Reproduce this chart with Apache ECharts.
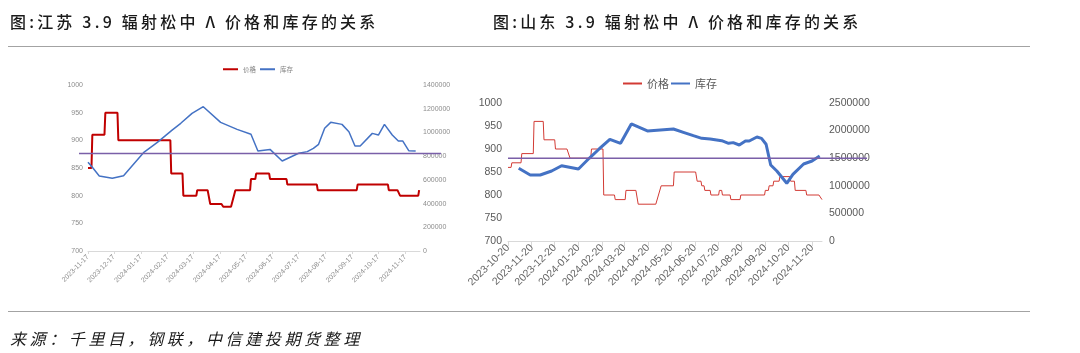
<!DOCTYPE html>
<html>
<head>
<meta charset="utf-8">
<script src="https://cdn.jsdelivr.net/npm/echarts@6/dist/echarts.min.js"></script>
<style>
body{margin:0;background:#fff;}
#wrap{position:relative;width:1080px;height:353px;overflow:hidden;font-family:"Noto Sans CJK SC",sans-serif;}
#main{position:absolute;left:0;top:0;width:1080px;height:353px;}
.ttl{position:absolute;top:9px;font-size:16px;line-height:24px;letter-spacing:3.2px;font-weight:500;color:#1a1a1a;white-space:nowrap;}
.rule{position:absolute;left:8px;width:1022px;height:0;border-top:1.5px solid #a3a3a3;}
.src{position:absolute;left:10px;top:326px;font-size:16px;line-height:24px;letter-spacing:3.6px;font-style:italic;color:#1a1a1a;white-space:nowrap;}
</style>
</head>
<body>
<div id="wrap">
  <div id="main"></div>
  <div class="ttl" style="left:10px">图:江苏 3.9 辐射松中 Λ 价格和库存的关系</div>
  <div class="ttl" style="left:493px">图:山东 3.9 辐射松中 Λ 价格和库存的关系</div>
  <div class="rule" style="top:46px"></div>
  <div class="rule" style="top:311px"></div>
  <div class="src">来源：千里目，钢联，中信建投期货整理</div>
</div>
<script>
// 江苏
var jsTicks = ['2023-11-17','2023-12-17','2024-01-17','2024-02-17','2024-03-17','2024-04-17','2024-05-17',
  '2024-06-17','2024-07-17','2024-08-17','2024-09-17','2024-10-17','2024-11-17'];
var jsPriceDates = ['2023-11-17','2023-11-21','2023-11-22','2023-12-06','2023-12-07','2023-12-21','2023-12-22',
  '2024-02-20','2024-02-21','2024-03-05','2024-03-06','2024-03-21','2024-03-22','2024-04-03','2024-04-06',
  '2024-04-19','2024-04-21','2024-04-30','2024-05-05','2024-05-22','2024-05-23','2024-05-28','2024-05-29',
  '2024-06-13','2024-06-14','2024-07-03','2024-07-04','2024-08-07','2024-08-08','2024-09-22','2024-09-23',
  '2024-10-28','2024-10-29','2024-11-08','2024-11-11','2024-12-02','2024-12-03'];
var jsPrice = [850,850,910,910,950,950,900,900,840,840,800,800,810,810,785,785,780,780,810,810,
  830,830,840,840,830,830,820,820,810,810,820,820,810,810,800,800,810];
var jsStockDates = ['2023-11-17','2023-11-22','2023-11-30','2023-12-15','2023-12-28','2024-01-20','2024-02-05',
  '2024-02-22','2024-03-03','2024-03-16','2024-03-29','2024-04-18','2024-05-07','2024-05-23','2024-05-31',
  '2024-06-14','2024-06-28','2024-07-17','2024-07-27','2024-08-03','2024-08-09','2024-08-16','2024-08-23',
  '2024-09-05','2024-09-13','2024-09-20','2024-09-26','2024-10-10','2024-10-17','2024-10-24','2024-11-02',
  '2024-11-09','2024-11-14','2024-11-21','2024-11-29'];
var jsStock = [748000,706000,633000,613000,635000,829000,916000,1020000,1077000,1161000,
  1217000,1085000,1026000,984000,843000,857000,759000,824000,838000,866000,
  900000,1035000,1085000,1068000,1006000,885000,885000,992000,978000,1068000,
  978000,928000,928000,846000,843000];
var jsRef = [876, 876];

// 山东
var sdTicks = ['2023-10-20','2023-11-20','2023-12-20','2024-01-20','2024-02-20','2024-03-20','2024-04-20',
  '2024-05-20','2024-06-20','2024-07-20','2024-08-20','2024-09-20','2024-10-20','2024-11-20'];
var sdPriceDates = ['2023-10-20','2023-10-24','2023-10-25','2023-11-06','2023-11-07','2023-11-22','2023-11-23',
  '2023-12-05','2023-12-06','2023-12-20','2023-12-21','2024-01-05','2024-01-09','2024-02-05','2024-02-06',
  '2024-02-21','2024-02-22','2024-03-07','2024-03-08','2024-03-21','2024-03-22','2024-04-04','2024-04-07',
  '2024-04-30','2024-05-07','2024-05-23','2024-05-24','2024-06-21','2024-06-23','2024-06-28','2024-06-29',
  '2024-07-02','2024-07-03','2024-07-10','2024-07-11','2024-07-21','2024-07-22','2024-07-25','2024-07-26',
  '2024-08-05','2024-08-06','2024-08-18','2024-08-19','2024-09-19','2024-09-20','2024-09-24','2024-09-25',
  '2024-09-30','2024-10-01','2024-10-08','2024-10-09','2024-10-22','2024-10-23','2024-10-28','2024-10-29',
  '2024-11-12','2024-11-13','2024-11-29','2024-12-03'];
var sdPrice = [860,860,870,870,890,890,960,960,920,920,900,900,880,880,900,900,800,800,790,790,
  810,810,780,780,820,820,850,850,830,830,820,820,810,810,800,800,810,810,800,800,
  790,790,800,800,810,810,820,820,830,830,840,840,830,830,810,810,800,800,790];
var sdStockDates = ['2023-11-03','2023-11-18','2023-12-01','2023-12-16','2023-12-29','2024-01-20','2024-02-03',
  '2024-02-16','2024-03-01','2024-03-15','2024-03-29','2024-04-19','2024-05-23','2024-06-05','2024-06-18',
  '2024-06-29','2024-07-10','2024-07-25','2024-08-03','2024-08-09','2024-08-17','2024-08-25','2024-08-30',
  '2024-09-09','2024-09-15','2024-09-21','2024-09-27','2024-10-05','2024-10-18','2024-10-26','2024-11-09',
  '2024-11-20','2024-11-30'];
var sdStock = [1317000,1196000,1196000,1268000,1364000,1304000,1498000,1667000,1842000,1770000,
  2120000,1993000,2029000,1969000,1908000,1860000,1848000,1817000,1770000,1782000,
  1739000,1812000,1812000,1884000,1860000,1752000,1377000,1268000,1045000,1208000,
  1395000,1449000,1540000];
var sdRef = [880, 880];
var refCats = ['起', '止'];

function ts(s) {
  var p = s.split('-');
  return new Date(+p[0], +p[1] - 1, +p[2]).getTime();
}
function pad(n) { return n < 10 ? '0' + n : '' + n; }
function fmt(v) {
  var d = new Date(v);
  return d.getFullYear() + '-' + pad(d.getMonth() + 1) + '-' + pad(d.getDate());
}
function pairs(dates, vals) {
  return dates.map(function (d, i) { return [ts(d), vals[i]]; });
}

var FONT = '"Liberation Sans", "Noto Sans CJK SC", sans-serif';
var RED1 = '#c00000', RED2 = '#d23a34', BLUE = '#4472c4', PURPLE = '#7a5fa8';

var myChart = echarts.init(document.getElementById('main'));

// 日期轴用数值轴 + 时间戳，刻度按每月固定日
function dateAxis(grid, ticks, min, max, fs, color, tickLen) {
  var vals = ticks.map(ts);
  return {
    type: 'value', gridIndex: grid, min: ts(min), max: ts(max), scale: true,
    axisLine: { show: true, lineStyle: { color: '#d9d9d9', width: 1 } },
    axisTick: { show: true, customValues: vals, length: tickLen, lineStyle: { color: '#d9d9d9' } },
    axisLabel: { customValues: vals, rotate: 45, fontSize: fs, color: color, fontFamily: FONT,
      formatter: function (v) { return fmt(v); }, margin: 5 },
    splitLine: { show: false }
  };
}
function valAxis(grid, pos, min, max, step, fs, color, margin) {
  return {
    type: 'value', gridIndex: grid, position: pos, min: min, max: max, interval: step,
    axisLine: { show: false }, axisTick: { show: false }, splitLine: { show: false },
    axisLabel: { fontSize: fs, color: color, fontFamily: FONT, margin: margin,
      formatter: function (v) { return String(v); } }
  };
}
function hiddenX(grid) {
  return { type: 'category', gridIndex: grid, data: refCats, boundaryGap: false, show: false };
}
function hiddenY(grid) {
  return { type: 'value', gridIndex: grid, min: 700, max: 1000, show: false };
}

myChart.setOption({
  animation: false,
  legend: [{
    data: ['js价格', 'js库存'], left: 222, top: 66, padding: 0,
    itemWidth: 15, itemHeight: 6, itemGap: 3,
    itemStyle: { opacity: 0 },
    formatter: function (n) { return n.slice(2); },
    textStyle: { fontSize: 6.5, color: '#7f7f7f', fontFamily: 'Noto Sans CJK SC' }
  }, {
    data: ['sd价格', 'sd库存'], left: 622, top: 78, padding: 0,
    itemWidth: 19, itemHeight: 10, itemGap: 1,
    itemStyle: { opacity: 0 },
    formatter: function (n) { return n.slice(2); },
    textStyle: { fontSize: 11, color: '#595959', fontFamily: 'Noto Sans CJK SC' }
  }],
  grid: [
    { left: 88, top: 85, width: 332, height: 166 },
    { left: 508, top: 103, width: 314, height: 138 },
    { left: 79, top: 85, width: 362, height: 166 },
    { left: 508, top: 103, width: 359, height: 138 }
  ],
  xAxis: [
    dateAxis(0, jsTicks, '2023-11-17', '2024-12-04', 7, '#8c8c8c', 3),
    dateAxis(1, sdTicks, '2023-10-20', '2024-12-03', 10.5, '#666666', 5),
    hiddenX(2),
    hiddenX(3)
  ],
  yAxis: [
    valAxis(0, 'left', 700, 1000, 50, 7, '#8c8c8c', 5),
    valAxis(0, 'right', 0, 1400000, 200000, 7, '#8c8c8c', 3),
    valAxis(1, 'left', 700, 1000, 50, 10.5, '#595959', 6),
    valAxis(1, 'right', 0, 2500000, 500000, 10.5, '#595959', 7),
    hiddenY(2),
    hiddenY(3)
  ],
  series: [
    { name: 'js价格', type: 'line', xAxisIndex: 0, yAxisIndex: 0, data: pairs(jsPriceDates, jsPrice),
      symbol: 'none', itemStyle: { color: RED1 }, lineStyle: { width: 2, color: RED1 }, z: 3 },
    { name: 'js库存', type: 'line', xAxisIndex: 0, yAxisIndex: 1, data: pairs(jsStockDates, jsStock),
      symbol: 'none', itemStyle: { color: BLUE }, lineStyle: { width: 1.5, color: BLUE }, z: 3 },
    { name: 'sd价格', type: 'line', xAxisIndex: 1, yAxisIndex: 2, data: pairs(sdPriceDates, sdPrice),
      symbol: 'none', itemStyle: { color: RED2 }, lineStyle: { width: 1, color: RED2 }, z: 3 },
    { name: 'sd库存', type: 'line', xAxisIndex: 1, yAxisIndex: 3, data: pairs(sdStockDates, sdStock),
      symbol: 'none', itemStyle: { color: BLUE }, lineStyle: { width: 3, color: BLUE }, z: 3 },
    { name: '参考线1', type: 'line', xAxisIndex: 2, yAxisIndex: 4, data: jsRef, silent: true,
      symbol: 'none', lineStyle: { width: 1.5, color: PURPLE }, z: 4 },
    { name: '参考线2', type: 'line', xAxisIndex: 3, yAxisIndex: 5, data: sdRef, silent: true,
      symbol: 'none', lineStyle: { width: 1.5, color: PURPLE }, z: 4 }
  ]
});
</script>
</body>
</html>
